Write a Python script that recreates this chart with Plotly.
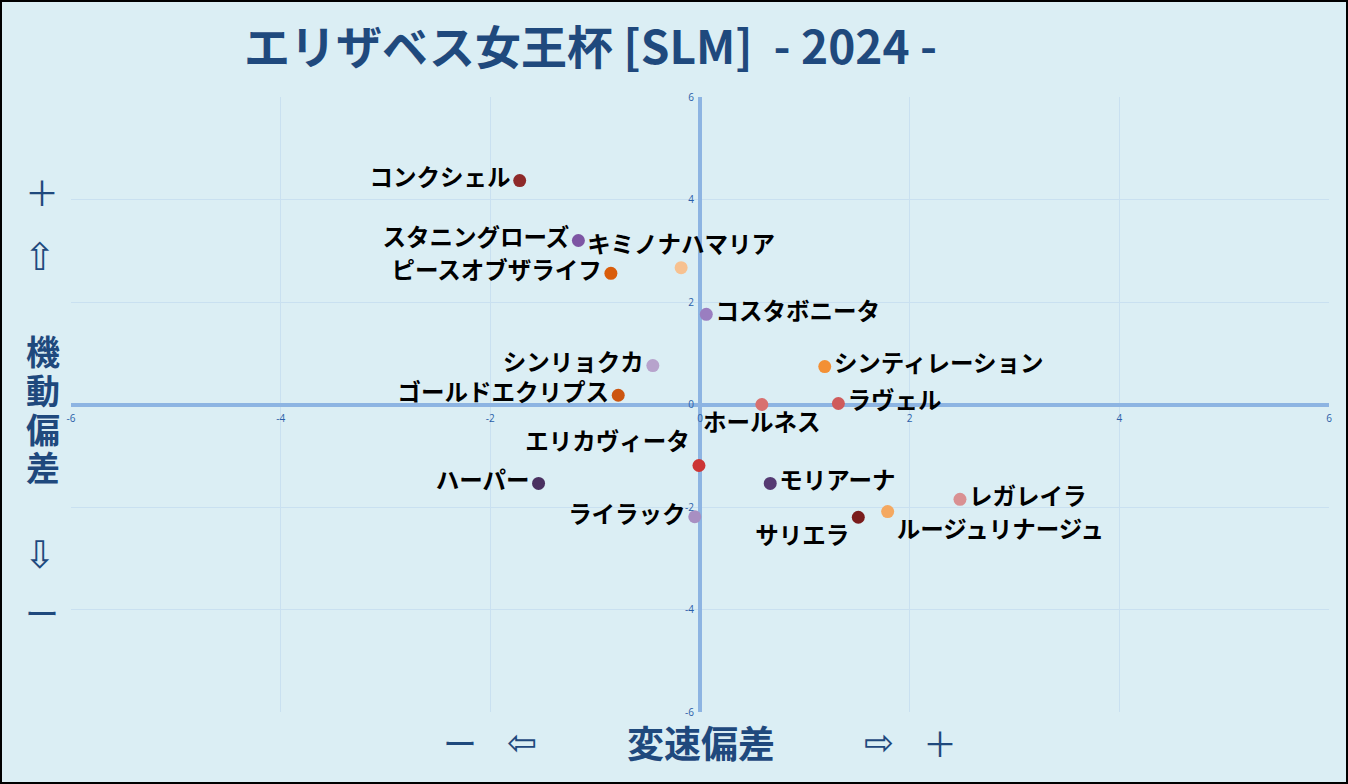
import plotly.graph_objects as go

names = ["コンクシェル", "スタニングローズ", "キミノナハマリア", "ピースオブザライフ", "コスタボニータ",
         "シンリョクカ", "シンティレーション", "ゴールドエクリプス", "ホールネス", "ラヴェル",
         "エリカヴィータ", "ハーパー", "モリアーナ", "レガレイラ", "ルージュリナージュ", "サリエラ", "ライラック"]
speed_dev = [-1.72, -1.16, -0.18, -0.85, 0.06, -0.45, 1.19, -0.78, 0.59, 1.32,
             -0.01, -1.54, 0.67, 2.48, 1.79, 1.51, -0.05]
mobility_dev = [4.37, 3.20, 2.67, 2.56, 1.76, 0.76, 0.74, 0.18, 0.00, 0.02,
                -1.19, -1.54, -1.54, -1.85, -2.09, -2.20, -2.19]
colors = ["#8e2a2a", "#7d55a3", "#f7c190", "#d95d0b", "#9a7ec0", "#b7a3cc", "#f39035", "#cc5510",
          "#d8706f", "#cf5b5b", "#cc3535", "#4a3060", "#553a72", "#d99092", "#f4a860", "#7a1c1c", "#a88fc2"]
text_pos = ["middle left", "middle left", "top center", "middle left", "middle right",
            "middle left", "middle right", "middle left", "bottom center", "middle right",
            "top left", "middle left", "middle right", "middle right", "bottom right", "bottom left", "middle left"]
ticks = [-6, -4, -2, 0, 2, 4, 6]

title_text = "エリザベス女王杯 [SLM]  - 2024 -"
x_title = "変速偏差"
y_title_chars = ["機", "動", "偏", "差"]

BG = "#dbeef4"
NAVY = "#1f497d"
JP = "Noto Sans CJK JP"

fig = go.Figure()
fig.add_trace(go.Scatter(
    x=speed_dev, y=mobility_dev, mode="markers+text",
    text=names, textposition=text_pos,
    textfont=dict(family=JP, size=23.5, color="#000000", weight="bold"),
    marker=dict(size=13, color=colors, line=dict(width=0)),
    hoverinfo="text", showlegend=False,
))

W, H = 1348, 784
L, R, T, B = 71, 19, 97, 72
pw, ph = W - L - R, H - T - B

def px(xp):
    return (xp - L) / pw

def py(yp):
    return (H - B - yp) / ph

def ann(text, x, y, size, family=JP, weight="bold"):
    return dict(text=text, x=px(x), y=py(y), xref="paper", yref="paper", showarrow=False,
                xanchor="center", yanchor="middle",
                font=dict(family=family, size=size, color=NAVY, weight=weight))

annotations = [
    ann(title_text, 590, 44, 46),
    ann(x_title, 701, 742, 37),
    ann("ー", 460, 742, 34, weight="normal"),
    ann("⇦", 522, 743, 36, family="DejaVu Sans", weight="normal"),
    ann("⇨", 879, 743, 36, family="DejaVu Sans", weight="normal"),
    ann("＋", 940, 742, 34, weight="normal"),
    ann("＋", 42, 192, 34, weight="normal"),
    ann("⇧", 40, 257, 38, family="DejaVu Sans", weight="normal"),
    ann("⇩", 40, 555, 38, family="DejaVu Sans", weight="normal"),
    ann("ー", 42, 612, 34, weight="normal"),
]
for i, ch in enumerate(y_title_chars):
    annotations.append(ann(ch, 43, 350 + i * 39, 34))

axis_common = dict(
    range=[-6, 6], tickvals=ticks, ticktext=[str(t) for t in ticks],
    showgrid=True, gridcolor="#c9e0f0", gridwidth=1,
    zeroline=True, zerolinecolor="#8db4e2", zerolinewidth=4,
    showline=False, ticks="", anchor="free", position=0.5,
    tickfont=dict(family="Open Sans", size=10, color="#2a5ea8"),
    fixedrange=True,
)

fig.update_layout(
    width=W, height=H,
    margin=dict(l=L, r=R, t=T, b=B, pad=0),
    paper_bgcolor=BG, plot_bgcolor=BG,
    xaxis=dict(**axis_common, ticklabelstandoff=6),
    yaxis=dict(**axis_common, ticklabelstandoff=6),
    annotations=annotations,
    shapes=[dict(type="rect", xref="paper", yref="paper",
                 x0=px(1), x1=px(W - 1), y0=py(H - 1), y1=py(1),
                 line=dict(color="#000000", width=2), layer="above")],
    showlegend=False,
)

fig.write_html("out.html")
